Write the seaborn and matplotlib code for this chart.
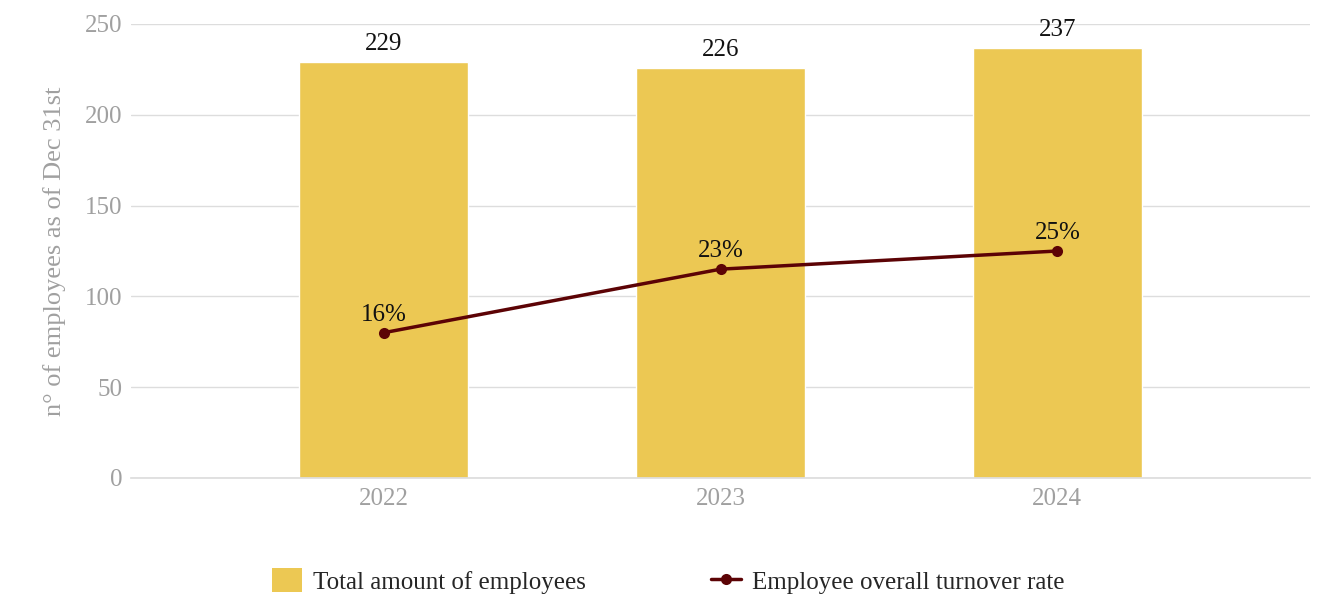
import matplotlib
matplotlib.use("Agg")
import matplotlib.pyplot as plt
import seaborn as sns
import pandas as pd
from matplotlib.lines import Line2D
from matplotlib.patches import Patch

years = ["2022", "2023", "2024"]
employees = [229, 226, 237]
turnover_pct = [16, 23, 25]

BAR_COLOR = "#ECC853"
LINE_COLOR = "#5C0305"
GRID_COLOR = "#DDDDDD"
TICK_COLOR = "#A0A0A0"
FS = 18

sns.set_theme(style="white")
plt.rcParams["font.family"] = ["Liberation Serif", "DejaVu Serif"]

df = pd.DataFrame({"year": years, "employees": employees, "turnover": turnover_pct})

fig = plt.figure(figsize=(13.26, 5.95), dpi=100)
ax = fig.add_axes([131 / 1326, 1 - 478 / 595, (1310 - 131) / 1326, (478 - 24) / 595])

sns.barplot(data=df, x="year", y="employees", color=BAR_COLOR, width=0.5,
            saturation=1, ax=ax, zorder=2)
ax.set_xlim(-0.75, 2.75)
ax.set_ylim(0, 250)
ax.set_yticks([0, 50, 100, 150, 200, 250])
ax.yaxis.grid(True, color=GRID_COLOR, linewidth=1, zorder=0)
ax.set_axisbelow(True)
for s in ["top", "right", "left"]:
    ax.spines[s].set_visible(False)
ax.spines["bottom"].set_color(GRID_COLOR)
ax.tick_params(axis="both", length=0, labelsize=FS, colors=TICK_COLOR)
ax.tick_params(axis="y", pad=6)
ax.tick_params(axis="x", pad=7)
ax.set_xlabel("")
ax.set_ylabel("n° of employees as of Dec 31st", fontsize=FS + 1, color=TICK_COLOR, labelpad=14)

for i, v in enumerate(employees):
    ax.annotate(f"{v}", (i, v), xytext=(0, 5), textcoords="offset points",
                ha="center", va="bottom", fontsize=FS, color="#111111")

# turnover rate on a hidden secondary scale (0-50 %)
ax2 = ax.twinx()
sns.lineplot(data=df, x="year", y="turnover", color=LINE_COLOR, linewidth=2.5,
             marker="o", markersize=8, markeredgewidth=0, ax=ax2, zorder=3)
ax2.set_ylim(0, 50)
ax2.set_xlim(-0.75, 2.75)
ax2.axis("off")
for i, v in enumerate(turnover_pct):
    ax2.annotate(f"{v}%", (i, v), xytext=(0, 5), textcoords="offset points",
                 ha="center", va="bottom", fontsize=FS, color="#111111")

handles = [
    Patch(facecolor=BAR_COLOR, edgecolor="none", label="Total amount of employees"),
    Line2D([0], [0], color=LINE_COLOR, linewidth=2.5, marker="o", markersize=8,
           markeredgewidth=0, label="Employee overall turnover rate"),
]
fig.legend(handles=handles, loc="center", bbox_to_anchor=(668 / 1326, 1 - 581 / 595),
           ncol=2, frameon=False, fontsize=FS, handlelength=1.2, handleheight=1.1,
           columnspacing=5, handletextpad=0.45)

fig.savefig("out.png", dpi=100)
